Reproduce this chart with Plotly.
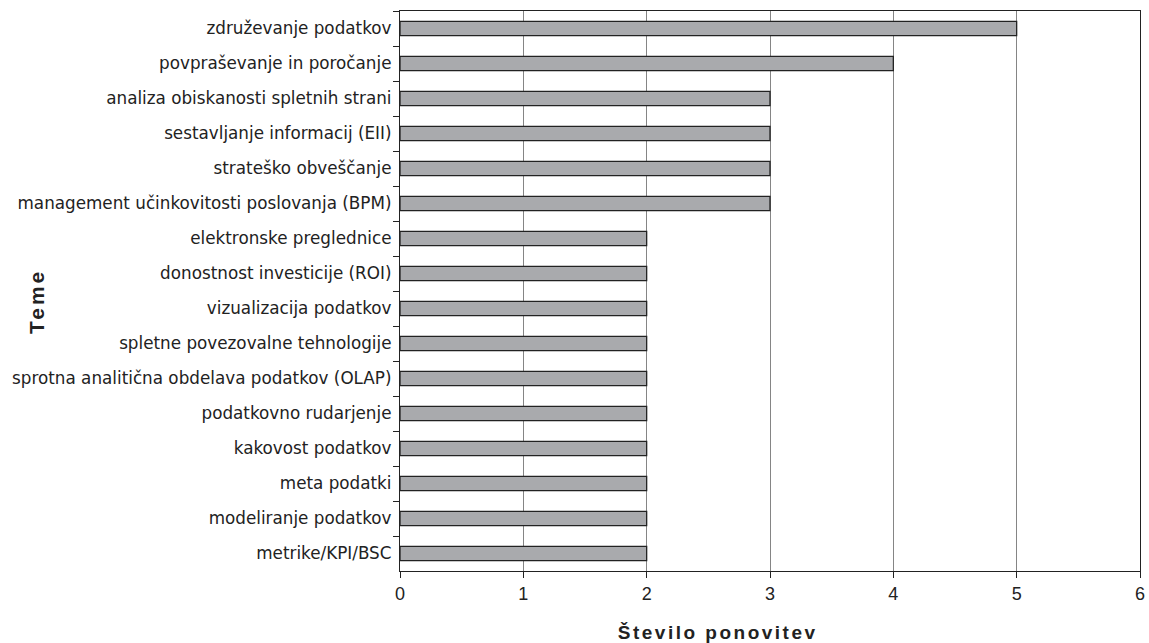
import plotly.graph_objects as go

teme = [
    "združevanje podatkov",
    "povpraševanje in poročanje",
    "analiza obiskanosti spletnih strani",
    "sestavljanje informacij (EII)",
    "strateško obveščanje",
    "management učinkovitosti poslovanja (BPM)",
    "elektronske preglednice",
    "donostnost investicije (ROI)",
    "vizualizacija podatkov",
    "spletne povezovalne tehnologije",
    "sprotna analitična obdelava podatkov (OLAP)",
    "podatkovno rudarjenje",
    "kakovost podatkov",
    "meta podatki",
    "modeliranje podatkov",
    "metrike/KPI/BSC",
]
ponovitve = [5, 4, 3, 3, 3, 3, 2, 2, 2, 2, 2, 2, 2, 2, 2, 2]
x_ticks = [0, 1, 2, 3, 4, 5, 6]

arial = "Liberation Sans, Arial, sans-serif"
tahoma = "DejaVu Sans, Tahoma, sans-serif"

fig = go.Figure(go.Bar(
    y=teme, x=ponovitve, orientation="h",
    width=0.41,
    marker=dict(color="#a9aaad", line=dict(color="#222222", width=1.3)),
))

fig.update_layout(
    width=1149, height=643,
    margin=dict(l=400, r=9, t=11, b=72, autoexpand=False),
    plot_bgcolor="white", paper_bgcolor="white",
    showlegend=False,
    font=dict(family=arial, size=14, color="#222"),
    annotations=[
        dict(text="<b>Število ponovitev</b>", xref="paper", yref="paper",
             x=(718 - 400) / 740, y=-(632 - 571) / 560,
             xanchor="center", yanchor="middle", showarrow=False,
             font=dict(family=arial, size=19, color="#222")),
        dict(text="<b>Teme</b>", xref="paper", yref="paper",
             x=(36 - 400) / 740, y=1 - (302 - 11) / 560,
             xanchor="center", yanchor="middle", showarrow=False, textangle=-90,
             font=dict(family=arial, size=21, color="#222")),
    ],
)
fig.update_xaxes(
    range=[0, 6], tickvals=x_ticks,
    showgrid=True, gridcolor="#858585", gridwidth=1.4,
    showline=True, linecolor="#222", linewidth=1.3, mirror=True,
    ticks="outside", ticklen=6, tickcolor="#222",
    zeroline=False, automargin=False,
    tickfont=dict(family=arial, size=18),
)
fig.update_yaxes(
    categoryorder="array", categoryarray=teme, autorange="reversed",
    showgrid=False,
    showline=True, linecolor="#222", linewidth=1.3, mirror=True,
    ticks="outside", ticklen=6, tickcolor="#222", tickson="boundaries",
    ticklabelstandoff=4, automargin=False,
    tickfont=dict(family=tahoma, size=16.8),
)

post = (
    "document.body.style.margin='0';"
    "document.body.style.overflow='hidden';"
    "document.querySelectorAll('.annotation-text').forEach(function(e,i){"
    "e.style.letterSpacing = (i===0 ? '2.5px' : '3px');});"
)
fig.write_html("out.html", post_script=post, config={"displayModeBar": False})
